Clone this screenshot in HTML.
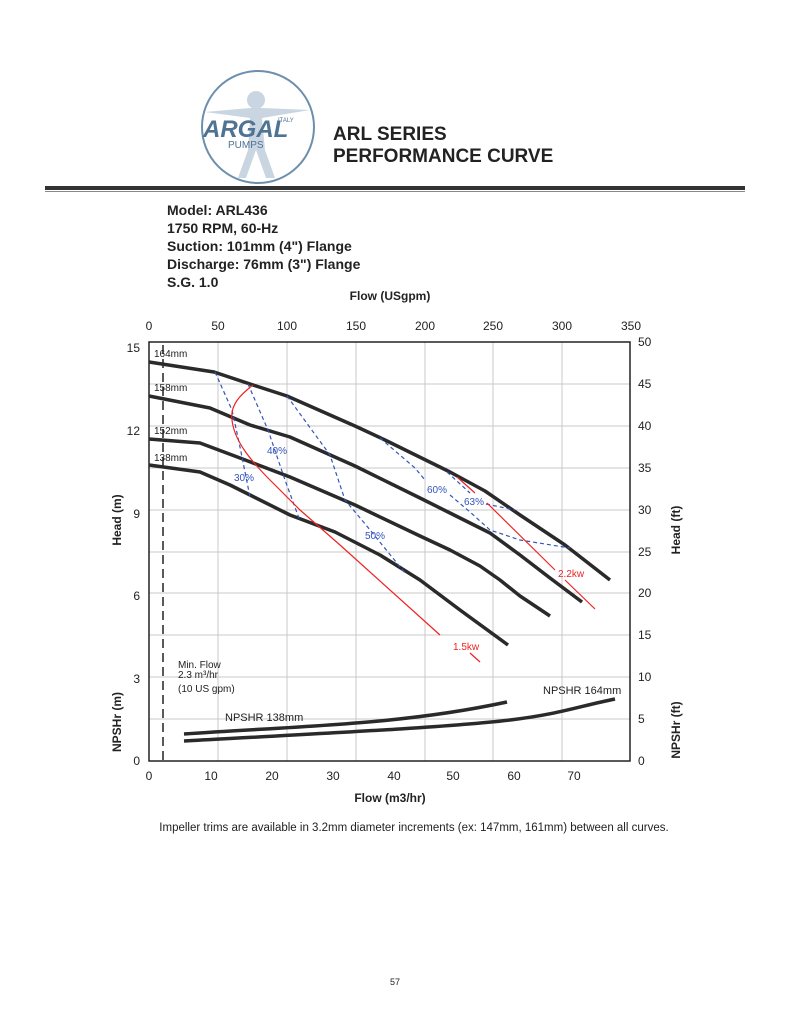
<!DOCTYPE html>
<html><head><meta charset="utf-8"><style>
body{margin:0;background:#fff;width:791px;height:1024px;overflow:hidden;font-family:"Liberation Sans",Arial,sans-serif;}
</style></head><body>
<svg width="791" height="1024" viewBox="0 0 791 1024" xmlns="http://www.w3.org/2000/svg" font-family="Liberation Sans, Arial, sans-serif">
<!-- logo -->
<circle cx="258" cy="127" r="56" fill="#fff" stroke="#6d8fae" stroke-width="2"/>
<g fill="#c9d6e2" stroke="none">
<circle cx="256" cy="100" r="9"/>
<path d="M205 112 L250 108 L262 108 L310 110 L262 118 L265 150 L275 178 L266 178 L256 150 L246 178 L238 178 L248 150 L250 118 Z"/>
</g>
<text x="203" y="137" font-size="24" font-weight="bold" font-style="italic" fill="#4f7392">ARGAL</text>
<text x="278" y="122" font-size="6" fill="#4f7392">ITALY</text>
<text x="228" y="148" font-size="10" fill="#4f7392">PUMPS</text>
<text x="333" y="140" font-size="19" font-weight="bold" fill="#222">ARL SERIES</text>
<text x="333" y="162" font-size="19" font-weight="bold" fill="#222">PERFORMANCE CURVE</text>
<rect x="45" y="186" width="700" height="4" fill="#333"/>
<line x1="45" y1="191.5" x2="745" y2="191.5" stroke="#888" stroke-width="1"/>
<!-- model text -->
<g font-size="14" font-weight="bold" fill="#222">
<text x="167" y="215">Model: ARL436</text>
<text x="167" y="233">1750 RPM, 60-Hz</text>
<text x="167" y="251">Suction: 101mm (4") Flange</text>
<text x="167" y="269">Discharge: 76mm (3") Flange</text>
<text x="167" y="287">S.G. 1.0</text>
</g>
<text x="390" y="300" font-size="12" font-weight="bold" text-anchor="middle" fill="#222">Flow (USgpm)</text>
<!-- grid -->
<g stroke="#c8c8c8" stroke-width="1">
<line x1="218" y1="342" x2="218" y2="761"/><line x1="287" y1="342" x2="287" y2="761"/><line x1="356" y1="342" x2="356" y2="761"/><line x1="425" y1="342" x2="425" y2="761"/><line x1="493" y1="342" x2="493" y2="761"/><line x1="562" y1="342" x2="562" y2="761"/>
<line x1="149" y1="719" x2="630" y2="719"/><line x1="149" y1="677" x2="630" y2="677"/><line x1="149" y1="635" x2="630" y2="635"/><line x1="149" y1="593" x2="630" y2="593"/><line x1="149" y1="552" x2="630" y2="552"/><line x1="149" y1="510" x2="630" y2="510"/><line x1="149" y1="468" x2="630" y2="468"/><line x1="149" y1="426" x2="630" y2="426"/><line x1="149" y1="384" x2="630" y2="384"/>
</g>
<rect x="149" y="342" width="481" height="419" fill="none" stroke="#222" stroke-width="1.5"/>
<!-- tick labels -->
<g font-size="12" fill="#222" text-anchor="middle">
<text x="149" y="330">0</text><text x="218" y="330">50</text><text x="287" y="330">100</text><text x="356" y="330">150</text><text x="425" y="330">200</text><text x="493" y="330">250</text><text x="562" y="330">300</text><text x="631" y="330">350</text>
<text x="149" y="780">0</text><text x="211" y="780">10</text><text x="272" y="780">20</text><text x="333" y="780">30</text><text x="394" y="780">40</text><text x="453" y="780">50</text><text x="514" y="780">60</text><text x="574" y="780">70</text>
</g>
<g font-size="12" fill="#222" text-anchor="end">
<text x="140" y="352">15</text><text x="140" y="435">12</text><text x="140" y="518">9</text><text x="140" y="600">6</text><text x="140" y="683">3</text><text x="140" y="765">0</text>
</g>
<g font-size="12" fill="#222">
<text x="638" y="346">50</text><text x="638" y="388">45</text><text x="638" y="430">40</text><text x="638" y="472">35</text><text x="638" y="514">30</text><text x="638" y="556">25</text><text x="638" y="597">20</text><text x="638" y="639">15</text><text x="638" y="681">10</text><text x="638" y="723">5</text><text x="638" y="765">0</text>
</g>
<text x="390" y="802" font-size="12" font-weight="bold" text-anchor="middle" fill="#222">Flow (m3/hr)</text>
<text transform="translate(121,520) rotate(-90)" font-size="12" font-weight="bold" text-anchor="middle" fill="#222">Head (m)</text>
<text transform="translate(121,722) rotate(-90)" font-size="12" font-weight="bold" text-anchor="middle" fill="#222">NPSHr (m)</text>
<text transform="translate(680,530) rotate(-90)" font-size="12" font-weight="bold" text-anchor="middle" fill="#222">Head (ft)</text>
<text transform="translate(680,730) rotate(-90)" font-size="12" font-weight="bold" text-anchor="middle" fill="#222">NPSHr (ft)</text>
<!-- min flow -->
<line x1="163" y1="345" x2="163" y2="761" stroke="#222" stroke-width="1.5" stroke-dasharray="9,5"/>
<g font-size="10" fill="#222">
<text x="178" y="668">Min. Flow</text><text x="178" y="678">2.3 m³/hr</text><text x="178" y="692">(10 US gpm)</text>
<text x="154" y="357">164mm</text><text x="154" y="391">158mm</text><text x="154" y="434">152mm</text><text x="154" y="461">138mm</text>
<text x="225" y="721" font-size="11">NPSHR 138mm</text><text x="543" y="694" font-size="11">NPSHR 164mm</text>
</g>
<!-- head curves -->
<g fill="none" stroke="#2a2a2a" stroke-width="3.5" stroke-linejoin="round">
<polyline points="149,362 214,372 250,384 287,396 355,426 385,440 450,472 485,491 520,515 565,545 610,580"/>
<polyline points="149,396 210,408 250,425 290,437 355,466 420,498 450,513 490,533 520,555 550,578 582,602"/>
<polyline points="149,439 200,443 240,458 290,477 355,505 420,536 450,550 480,566 500,580 520,596 550,616"/>
<polyline points="149,465 200,472 230,485 290,515 335,532 380,555 420,580 460,610 508,645"/>
<path d="M184,734 C300,726 400,725 507,702"/>
<path d="M184,741 C350,732 450,727 510,720 C560,714 580,706 615,699"/>
</g>
<!-- efficiency -->
<g fill="none" stroke="#3355bb" stroke-width="1.2" stroke-dasharray="4,3">
<polyline points="215,372 232,410 240,447 250,497"/>
<polyline points="248,384 268,430 285,480 300,521"/>
<polyline points="287,396 330,455 345,500 366,525 405,573"/>
<polyline points="380,438 415,468 425,480"/>
<polyline points="450,495 470,512 490,530 520,540 570,548"/>
<polyline points="447,472 470,493"/>
<polyline points="486,504 515,510"/>
</g>
<g font-size="10" fill="#3355bb">
<text x="234" y="481">30%</text><text x="267" y="454">40%</text><text x="365" y="539">50%</text><text x="427" y="493">60%</text><text x="464" y="505">63%</text>
</g>
<!-- power -->
<g fill="none" stroke="#ee2222" stroke-width="1.2">
<path d="M253,385 C240,395 230,405 232,420 C234,440 250,460 270,480 L300,510 L340,545 L440,635"/>
<line x1="470" y1="653" x2="480" y2="662"/>
<line x1="457" y1="477" x2="475" y2="493"/>
<line x1="487" y1="503" x2="555" y2="570"/>
<line x1="565" y1="580" x2="595" y2="609"/>
</g>
<g font-size="10" fill="#ee2222"><text x="453" y="650">1.5kw</text><text x="558" y="577">2.2kw</text></g>
<text x="414" y="831" font-size="11.5" text-anchor="middle" fill="#222">Impeller trims are available in 3.2mm diameter increments (ex: 147mm, 161mm) between all curves.</text>
<text x="395" y="985" font-size="9" text-anchor="middle" fill="#222">57</text>
</svg>
</body></html>
